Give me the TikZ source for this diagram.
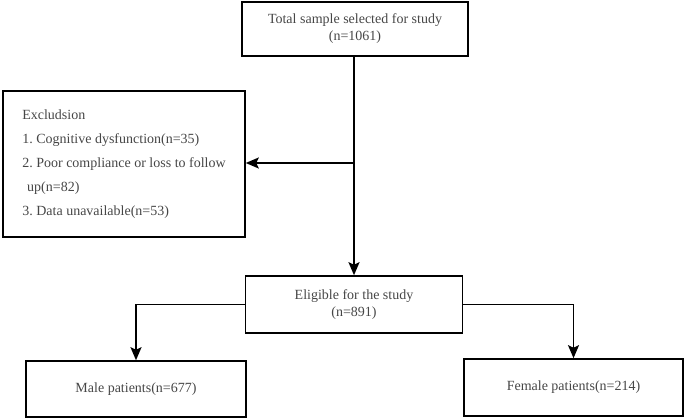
\documentclass[tikz,border=0pt]{standalone}
\usepackage{fontspec}
\setmainfont{Liberation Serif}
\usepackage{tikz}
\usetikzlibrary{positioning}
\usetikzlibrary{arrows.meta}
\definecolor{txtgray}{RGB}{70,70,70}
\frenchspacing
\tikzset{
  flowbox/.style={draw, line width=1.6pt, text=txtgray, align=center,
    font=\fontsize{14}{17}\selectfont, inner sep=0pt},
  flowarrow/.style={line width=1.5pt, -{Stealth[length=13pt,width=11pt,inset=2.5pt]}}
}

\begin{document}
\begin{tikzpicture}[x=1pt,y=-1pt]
  \useasboundingbox (0,0) rectangle (685,419);

  \node[flowbox, minimum width=226pt, minimum height=54pt] (total) at (355,29)
    {Total sample selected for study\\(n=1061)};
  \node[flowbox, minimum width=242pt, minimum height=146pt, align=left,
    font=\fontsize{14}{24}\selectfont] (excl) at (124,164)
    {Excludsion\\
     1. Cognitive dysfunction(n=35)\\
     2. Poor compliance or loss to follow\\
     \hspace*{0.35em}up(n=82)\\
     3. Data unavailable(n=53)};
  \node[flowbox, minimum width=217pt, minimum height=57pt] (elig) at (354,304.5)
    {Eligible for the study\\(n=891)};
  \node[flowbox, minimum width=220pt, minimum height=56pt] (male) at (136,389)
    {Male patients(n=677)};
  \node[flowbox, minimum width=219pt, minimum height=57pt] (female) at (573.5,387.5)
    {Female patients(n=214)};

  \coordinate (split) at (354,163);

  \draw[flowarrow] (total.south -| split) -- (elig.north);
  \draw[flowarrow] (split) -- (excl.east |- split);
  \draw[flowarrow] (elig.west) -| (male.north);
  \draw[flowarrow] (elig.east) -| (female.north);
\end{tikzpicture}
\end{document}
